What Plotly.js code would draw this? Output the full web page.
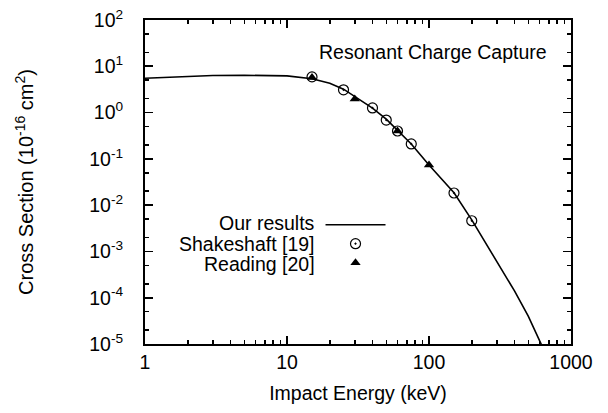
<!DOCTYPE html>
<html><head><meta charset="utf-8">
<script src="https://cdn.plot.ly/plotly-3.0.1.min.js"></script>
<style>html,body{margin:0;padding:0;background:#fff}#chart{width:608px;height:413px}</style>
</head><body><div id="chart"></div>
<script>
// Theory curve ("Our results")
const curveEnergy = [1, 1.5, 2, 3, 5, 7, 10, 15, 20, 25, 30, 40, 50, 60, 75, 100, 150, 200, 300, 400, 500, 600, 650];
const curveCross  = [5.5, 5.8, 6.0, 6.3, 6.4, 6.4, 6.2, 5.4, 4.3, 3.2, 2.2, 1.25, 0.72, 0.42, 0.21, 0.074, 0.0185, 0.0048, 6.3e-4, 1.4e-4, 4.0e-5, 1.15e-5, 7e-6];
// Shakeshaft [19]
const shakeshaftEnergy = [15, 25, 40, 50, 60, 75, 150, 200];
const shakeshaftCross  = [5.9, 3.1, 1.26, 0.69, 0.40, 0.21, 0.0183, 0.0046];
// Reading [20]
const readingEnergy = [15, 30, 60, 100];
const readingCross  = [5.7, 1.97, 0.40, 0.074];
const seriesNames = ['Our results', 'Shakeshaft [19]', 'Reading [20]'];
// Tick labels
const xTickVals = [1, 10, 100, 1000];
const xTickText = ['1', '10', '100', '1000'];
const xMinorVals = [2,3,4,5,6,7,8,9,20,30,40,50,60,70,80,90,200,300,400,500,600,700,800,900];
const yTickVals = [1e-5, 1e-4, 1e-3, 1e-2, 1e-1, 1e0, 1e1, 1e2];
const yTickText = ['10<sup>-5</sup>','10<sup>-4</sup>','10<sup>-3</sup>','10<sup>-2</sup>','10<sup>-1</sup>','10<sup>0</sup>','10<sup>1</sup>','10<sup>2</sup>'];
const yMinorVals = [2e-5,5e-5,2e-4,5e-4,2e-3,5e-3,2e-2,5e-2,2e-1,5e-1,2,5,20,50];
const chartTitle = 'Resonant Charge Capture';

const FONT = 'Liberation Sans, Arial, Helvetica, sans-serif';
const FS = 19.5;

const traces = [
  {x: curveEnergy, y: curveCross, mode: 'lines', name: '', line: {color: '#000', width: 1.6}, showlegend: true},
  {x: shakeshaftEnergy, y: shakeshaftCross, mode: 'markers', name: '',
   marker: {symbol: 'circle-open-dot', size: 10, color: '#000', line: {width: 1.2, color: '#000'}}, showlegend: true},
  {x: readingEnergy, y: readingCross, mode: 'markers', name: '',
   marker: {symbol: 'triangle-up', size: 9, color: '#000'}, showlegend: true}
];

const axisCommon = {
  type: 'log', showgrid: false, zeroline: false,
  showline: true, linecolor: '#000', linewidth: 2, mirror: 'allticks',
  ticks: 'inside', ticklen: 8, tickwidth: 1.8, tickcolor: '#000',
  tickfont: {family: FONT, size: FS, color: '#000'}
};

const layout = {
  width: 608, height: 413,
  margin: {l: 145, r: 37, t: 20, b: 69},
  paper_bgcolor: '#fff', plot_bgcolor: '#fff',
  font: {family: FONT, color: '#000'},
  showlegend: true,
  legend: {x: 0.412, y: 0.413, xanchor: 'left', yanchor: 'top', bgcolor: 'rgba(0,0,0,0)',
           font: {family: FONT, size: 12}, itemwidth: 60, tracegroupgap: 0},
  xaxis: Object.assign({}, axisCommon, {
    range: [0, 3], tickmode: 'array', tickvals: xTickVals, ticktext: xTickText,
    ticklabelstandoff: 0,
    minor: {tickvals: xMinorVals, ticks: 'inside', ticklen: 4, tickwidth: 1.5, tickcolor: '#000'},
    title: {text: 'Impact Energy (keV)', font: {family: FONT, size: FS}, standoff: 14}
  }),
  yaxis: Object.assign({}, axisCommon, {
    range: [-5, 2], tickmode: 'array', tickvals: yTickVals, ticktext: yTickText,
    ticklabelstandoff: 16,
    minor: {tickvals: yMinorVals, ticks: 'inside', ticklen: 4, tickwidth: 1.5, tickcolor: '#000'},
    title: {text: 'Cross Section (10<sup>-16</sup> cm<sup>2</sup>)', font: {family: FONT, size: 20}, standoff: 50}
  }),
  annotations: [
    {text: chartTitle, xref: 'paper', yref: 'paper', x: 0.676, y: 0.901, xanchor: 'center', yanchor: 'middle',
     showarrow: false, font: {family: FONT, size: FS, color: '#000'}},
    {text: seriesNames[0], xref: 'paper', yref: 'paper', x: 0.404, y: 0.373, xanchor: 'right', yanchor: 'middle',
     showarrow: false, font: {family: FONT, size: FS, color: '#000'}},
    {text: seriesNames[1], xref: 'paper', yref: 'paper', x: 0.404, y: 0.309, xanchor: 'right', yanchor: 'middle',
     showarrow: false, font: {family: FONT, size: FS, color: '#000'}},
    {text: seriesNames[2], xref: 'paper', yref: 'paper', x: 0.404, y: 0.247, xanchor: 'right', yanchor: 'middle',
     showarrow: false, font: {family: FONT, size: FS, color: '#000'}}
  ]
};

Plotly.newPlot('chart', traces, layout, {displayModeBar: false, staticPlot: true});
</script>
</body></html>
